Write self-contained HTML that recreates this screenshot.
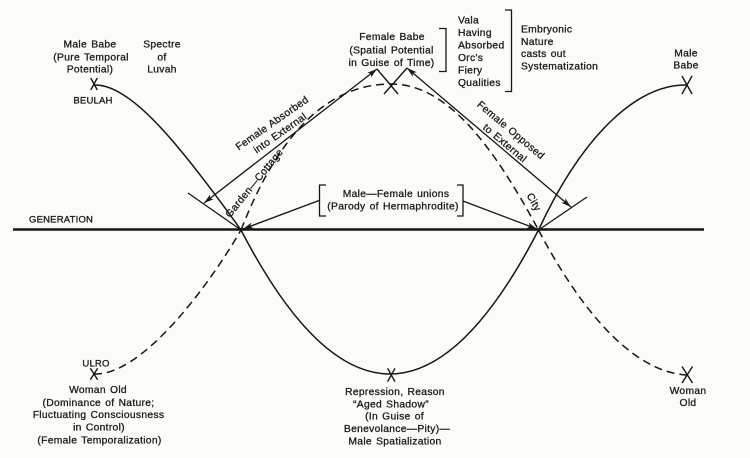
<!DOCTYPE html>
<html>
<head>
<meta charset="utf-8">
<style>
  html,body{margin:0;padding:0;background:#fbfbf8;}
  body{width:750px;height:458px;overflow:hidden;}
  svg{display:block;}
  text{font-family:"Liberation Sans",Arial,sans-serif;font-size:10.3px;letter-spacing:0.3px;word-spacing:1px;fill:#1a1a1a;stroke:#1a1a1a;stroke-width:0.3px;}
  .c{text-anchor:middle;}
  .cap{font-size:9.5px;letter-spacing:0.2px;}
</style>
</head>
<body>
<svg width="750" height="458" viewBox="0 0 750 458" xmlns="http://www.w3.org/2000/svg">
  <defs>
    <marker id="ah" viewBox="0 0 10 6" refX="10" refY="3" markerWidth="10" markerHeight="6" markerUnits="userSpaceOnUse" orient="auto-start-reverse">
      <path d="M0,0 L10,3 L0,6 L2.5,3 Z" fill="#1a1a1a"/>
    </marker>
  </defs>
  <rect x="0" y="0" width="750" height="458" fill="#fbfbf8"/>

  <!-- GENERATION axis -->
  <line x1="13" y1="229.5" x2="704" y2="229.5" stroke="#161616" stroke-width="2.4"/>

  <!-- solid curve -->
  <path d="M94,85 C130,83 180,145 241,230 Q390,518 538.5,230 C585,130 640,84 687,85" fill="none" stroke="#161616" stroke-width="1.5"/>

  <!-- dashed curve -->
  <g fill="none" stroke="#161616" stroke-width="1.5" stroke-dasharray="8 5">
    <path d="M94,374 C140,376 205,292 241,230"/>
    <path d="M241,230 C280,130 330,84 391,84 C445,84 490,140 538.5,230"/>
    <path d="M538.5,230 C578,305 630,372 687,375"/>
  </g>

  <!-- Xs -->
  <g stroke="#161616" stroke-width="1.4" fill="none">
    <path d="M90.7,78 L97.3,90 M97.3,78 L90.7,90"/>
    <path d="M682,76 L692,94 M692,76 L682,94"/>
    <path d="M90.3,368.3 L97.7,379.7 M97.7,368.3 L90.3,379.7"/>
    <path d="M682,366.5 L692.5,383 M692.5,366.5 L682,383"/>
    <path d="M387.6,368.3 L395,381.7 M395,368.3 L387.6,381.7"/>
    <path d="M377,69 L398,94 M407,68 L384,94"/>
  </g>

  <!-- short lines at intersections -->
  <g stroke="#161616" stroke-width="1.3" fill="none">
    <line x1="188" y1="193" x2="241" y2="230"/>
    <line x1="538.5" y1="230" x2="587" y2="197"/>
  </g>

  <!-- arrows -->
  <g stroke="#161616" stroke-width="1.3" fill="none">
    <line x1="204" y1="203" x2="377" y2="69" marker-start="url(#ah)" marker-end="url(#ah)"/>
    <line x1="407" y1="68" x2="571" y2="207" marker-start="url(#ah)" marker-end="url(#ah)"/>
    <line x1="319" y1="200.5" x2="243" y2="229" marker-end="url(#ah)"/>
    <line x1="463" y1="201" x2="537" y2="229" marker-end="url(#ah)"/>
  </g>

  <!-- brackets -->
  <g stroke="#161616" stroke-width="1.3" fill="none">
    <path d="M439,28.5 H446 V71.5 H439"/>
    <path d="M505,10 H511.5 V91.5 H505"/>
    <path d="M326,185 H319.5 V216 H326"/>
    <path d="M457,185 H463 V216 H457"/>
  </g>

  <!-- Left top labels -->
  <text class="c" x="90" y="47.5">Male Babe</text>
  <text class="c" x="91" y="60.5">(Pure Temporal</text>
  <text class="c" x="90" y="72.5">Potential)</text>
  <text class="c" x="162" y="47.5">Spectre</text>
  <text class="c" x="162" y="60.5">of</text>
  <text class="c" x="162" y="72.5">Luvah</text>
  <text class="c cap" x="93" y="103.5">BEULAH</text>

  <text class="cap" x="29" y="222.5">GENERATION</text>

  <!-- Female Babe -->
  <text class="c" x="392" y="40">Female Babe</text>
  <text class="c" x="391.5" y="53.5">(Spatial Potential</text>
  <text class="c" x="391.5" y="66">in Guise of Time)</text>

  <!-- Vala -->
  <text x="458" y="23.5">Vala</text>
  <text x="458" y="36">Having</text>
  <text x="458" y="48.5">Absorbed</text>
  <text x="458" y="61">Orc's</text>
  <text x="458" y="73.5">Fiery</text>
  <text x="458" y="86">Qualities</text>

  <!-- Embryonic -->
  <text x="521" y="32.5">Embryonic</text>
  <text x="521" y="45">Nature</text>
  <text x="521" y="57">casts out</text>
  <text x="521" y="69.5">Systematization</text>

  <!-- Right Male Babe -->
  <text class="c" x="686" y="56.5">Male</text>
  <text class="c" x="686" y="68.5">Babe</text>

  <!-- Rotated labels -->
  <g transform="translate(272,123) rotate(-35)"><text class="c" x="0" y="3.5">Female Absorbed</text></g>
  <g transform="translate(280,133) rotate(-35)"><text class="c" x="0" y="3.5">into External</text></g>
  <g transform="translate(254,183) rotate(-51)"><text class="c" x="0" y="3.5">Garden—Cottage</text></g>
  <g transform="translate(511,130) rotate(40)"><text class="c" x="0" y="3.5">Female Opposed</text></g>
  <g transform="translate(505,143) rotate(40)"><text class="c" x="0" y="3.5">to External</text></g>
  <g transform="translate(534,202) rotate(61)"><text class="c" x="0" y="3.5">City</text></g>

  <!-- Male-Female unions -->
  <text class="c" x="396" y="197">Male—Female unions</text>
  <text class="c" x="393" y="209.5">(Parody of Hermaphrodite)</text>

  <!-- ULRO block -->
  <text class="c cap" x="96" y="366.5">ULRO</text>
  <text class="c" x="98" y="393">Woman Old</text>
  <text class="c" x="98.5" y="406">(Dominance of Nature;</text>
  <text class="c" x="98.5" y="418">Fluctuating Consciousness</text>
  <text class="c" x="99" y="430.5">in Control)</text>
  <text class="c" x="99.5" y="443.5">(Female Temporalization)</text>

  <!-- bottom center -->
  <text class="c" x="395" y="395">Repression, Reason</text>
  <text class="c" x="391" y="407.5">“Aged Shadow”</text>
  <text class="c" x="394.5" y="419.5">(In Guise of</text>
  <text class="c" x="397" y="432">Benevolance—Pity)—</text>
  <text class="c" x="395" y="444.5">Male Spatialization</text>

  <!-- right Woman Old -->
  <text class="c" x="688" y="394">Woman</text>
  <text class="c" x="688" y="406">Old</text>
</svg>
</body>
</html>
